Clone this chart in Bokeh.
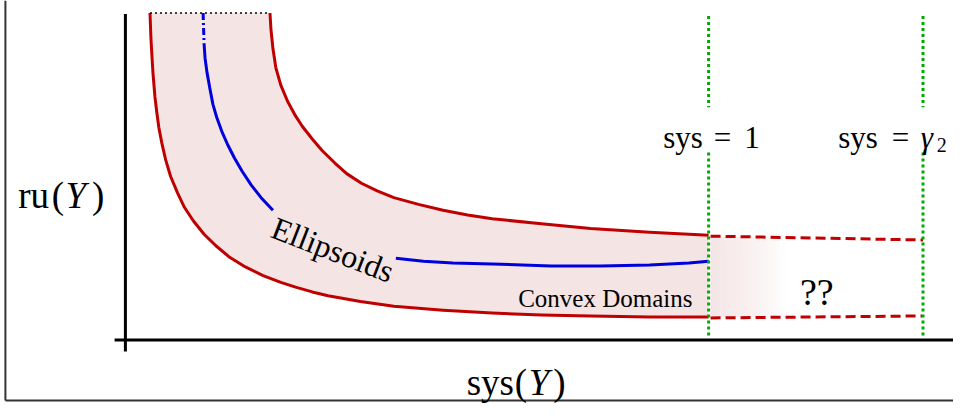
import numpy as np
from bokeh.plotting import figure
from bokeh.models import Range1d
from bokeh.embed import file_html
from bokeh.resources import INLINE
from bokeh.core.properties import value

# ---- data (schematic coordinates, y downward) ----
upper_x = [274, 275, 277, 280, 285, 292, 300, 307, 317, 327, 340, 352, 367, 383, 400, 425, 450, 475, 500, 550, 600, 660, 720]
upper_y = [13, 30, 50, 70, 88, 105, 120, 131, 144, 156, 169, 180, 190, 198, 205, 212, 218, 223, 227, 232, 237, 241, 244]

lower_x = [152, 153, 154, 155, 157, 159, 161, 164, 168, 173, 180, 187, 196, 207, 219, 233, 249, 267, 285, 300, 317, 333, 366, 400, 450, 500, 550, 600, 660, 720]
lower_y = [13, 40, 58, 75, 100, 117, 132, 148, 166, 183, 200, 215, 229, 243, 255, 267, 277, 286, 293, 298, 303, 307, 313, 318, 322, 325, 327, 328, 329, 329]

blue_top_x = [206, 207]
blue_top_y = [13, 45]
blue_a_x = [207, 208, 210, 213, 216, 220, 225, 231, 238, 246, 255, 265, 277]
blue_a_y = [45, 60, 75, 92, 108, 122, 136, 150, 164, 178, 192, 205, 218]
blue_b_x = [402, 430, 460, 500, 560, 610, 660, 700, 720]
blue_b_y = [268, 271, 273, 274, 276, 276, 275, 273, 271]

dash_up_x = [722, 938]
dash_up_y = [245, 249]
dash_lo_x = [722, 937]
dash_lo_y = [330, 328]

cap_x = [152, 274]
cap_y = [13, 13]

sys_lines = [720, 938]
label_sys1 = ["sys", "=", "1"]
label_sysg = ["sys", "=", "γ", "2"]
xlabel = ["sys", "(", "Y", ")"]
ylabel = ["ru", "(", "Y", ")"]
region_labels = ["Ellipsoids", "Convex Domains", "??"]

RED = "#c00000"
BLUE = "#0000dd"
GREEN = "#00aa00"
PINK = "#f4e4e4"
FONT = value("Liberation Serif")

p = figure(width=953, height=403, output_backend="svg", toolbar_location=None,
           x_range=Range1d(0, 969), y_range=Range1d(419, 0), min_border=0)
p.axis.visible = False
p.grid.visible = False
p.outline_line_color = None
p.background_fill_color = "white"
p.border_fill_color = "white"

# filled band
px = lower_x + upper_x[::-1]
py = lower_y + upper_y[::-1]
p.patch(px, py, fill_color=PINK, line_color=None)

# gradient beyond sys = 1
steps = 40
gx = np.linspace(722, 802, steps + 1)
top_y = dash_up_y[0]
bot_y = dash_lo_y[0]
for i in range(steps):
    a = 1.0 - (i + 0.5) / steps
    p.quad(left=[gx[i]], right=[gx[i + 1] + 0.3], top=[top_y + 1], bottom=[bot_y - 1],
           fill_color=PINK, fill_alpha=a, line_color=None)

LW = 3
# red curves
p.line(upper_x, upper_y, line_color=RED, line_width=LW, line_join="round")
p.line(lower_x, lower_y, line_color=RED, line_width=LW, line_join="round")
p.line(dash_up_x, dash_up_y, line_color=RED, line_width=LW, line_dash="10 5")
p.line(dash_lo_x, dash_lo_y, line_color=RED, line_width=LW, line_dash="10 5")

# blue curve
p.line(blue_top_x, blue_top_y, line_color=BLUE, line_width=LW, line_dash="7 3 2 3")
p.line(blue_a_x, blue_a_y, line_color=BLUE, line_width=LW, line_join="round")
p.line(blue_b_x, blue_b_y, line_color=BLUE, line_width=LW, line_join="round")

# top dotted cap
p.line(cap_x, cap_y, line_color="black", line_width=1.3, line_dash="2 3")

# green dotted verticals
for sx in sys_lines:
    p.line([sx, sx], [16, 111], line_color=GREEN, line_width=3, line_dash="3 3")
    p.line([sx, sx], [158, 351], line_color=GREEN, line_width=3, line_dash="3 3")

# axes
p.line([127, 127], [14, 365], line_color="black", line_width=3)
p.line([116, 969], [353, 353], line_color="black", line_width=3)

# frame (left and bottom)
p.line([5, 5], [0, 416], line_color="#333333", line_width=2)
p.line([5, 969], [416, 416], line_color="#333333", line_width=2)

def txt(x, y, s, size, align="left", style="normal", baseline="alphabetic", angle=0.0):
    p.text(x=[x], y=[y], text=[s], text_font=FONT, text_font_size=f"{size}px",
           text_align=align, text_baseline=baseline, text_font_style=style,
           text_color="black", angle=angle)

# sys = 1
txt(694, 142, label_sys1[0], 31, "center")
txt(734, 142, label_sys1[1], 31, "center")
txt(764, 142, label_sys1[2], 31, "center")
# sys = gamma_2
txt(872, 142, label_sysg[0], 31, "center")
txt(915, 142, label_sysg[1], 31, "center")
txt(942, 142, label_sysg[2], 31, "center", "italic")
txt(957, 150, label_sysg[3], 20, "center")

# axis labels
txt(474, 397, xlabel[0], 37)
txt(523, 397, xlabel[1], 37)
txt(537, 397, xlabel[2], 37, style="italic")
txt(562, 397, xlabel[3], 37)

txt(18, 203, ylabel[0], 37)
txt(52, 203, ylabel[1], 37)
txt(66, 203, ylabel[2], 37, style="italic")
txt(93, 203, ylabel[3], 37)

# region labels
txt(338, 259, region_labels[0], 32, "center", angle=-0.37)
txt(615, 310, region_labels[1], 25, "center")
txt(830, 303, region_labels[2], 38, "center")

open("out.html", "w").write(file_html(p, INLINE))
